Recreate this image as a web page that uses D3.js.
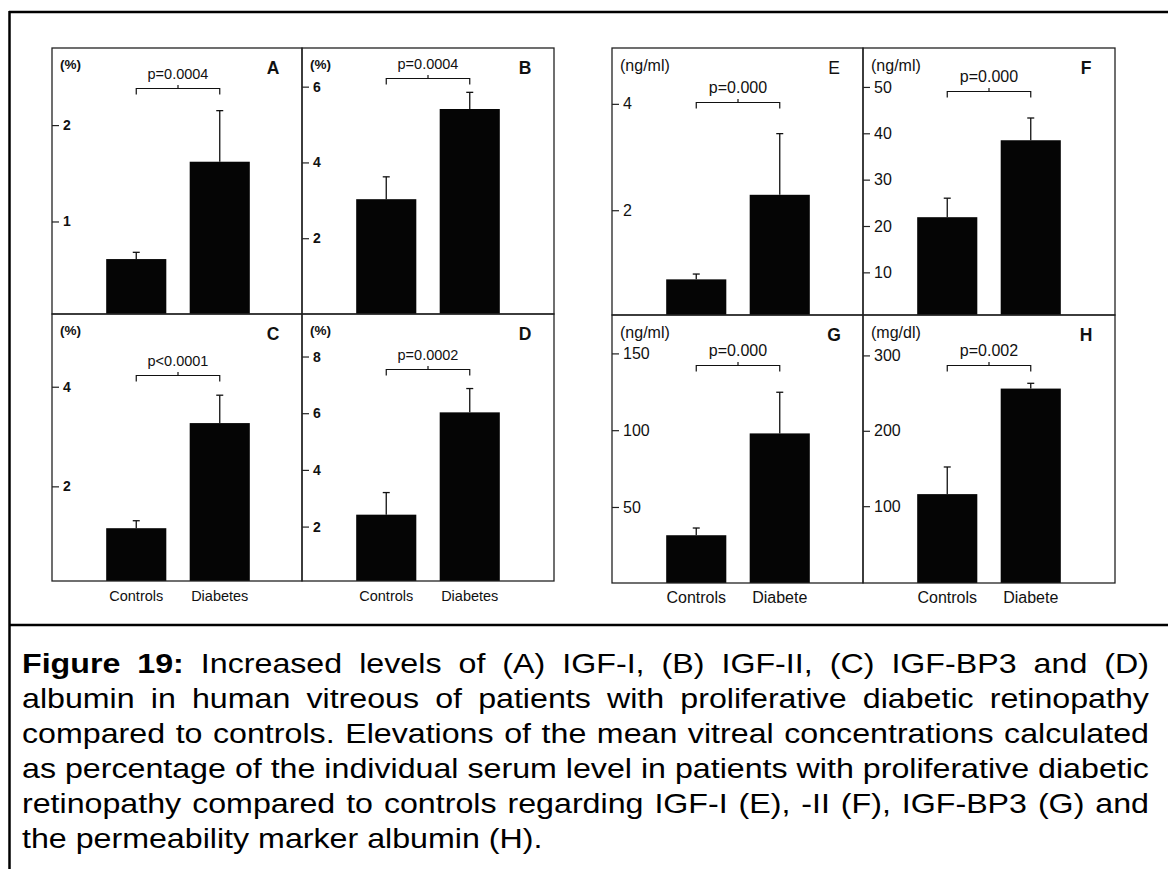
<!DOCTYPE html>
<html>
<head>
<meta charset="utf-8">
<script src="https://cdn.jsdelivr.net/npm/d3@7"></script>
<style>
body{margin:0;background:#fff;}
svg{display:block;font-family:"Liberation Sans",Arial,sans-serif;}
</style>
</head>
<body>
<script>
// ---- data ----
var categories=["Controls","Diabetes"];
var xLabelsLeft=["Controls","Diabetes"];
var xLabelsRight=["Controls","Diabete"];
var panelIds=["A","B","C","D","E","F","G","H"];
var units=["(%)","(%)","(%)","(%)","(ng/ml)","(ng/ml)","(ng/ml)","(mg/dl)"];
var pValues=["p=0.0004","p=0.0004","p<0.0001","p=0.0002","p=0.000","p=0.000","p=0.000","p=0.002"];
var meansControls=[0.61,3.03,1.16,2.42,0.70,21.9,31.6,116];
var meansDiabetes=[1.62,5.41,3.27,6.03,2.29,38.5,97.9,256];
var errControls=[0.07,0.59,0.15,0.78,0.10,4.1,4.7,36];
var errDiabetes=[0.53,0.44,0.56,0.84,1.15,4.8,26.8,7];
var yDomains=[[0.04,2.8],[0,7.02],[0.1,5.46],[0.08,9.5],[0.03,5.05],[0.8,58.4],[0.5,175],[-1.9,353.6]];
var yTicks=[[1,2],[2,4,6],[2,4],[2,4,6,8],[2,4],[10,20,30,40,50],[50,100,150],[100,200,300]];
var bracketLevels=[2.39,6.24,4.23,7.57,4.04,49.2,142.5,287.3];

var captionLines=[
    "Figure 19: Increased levels of (A) IGF-I, (B) IGF-II, (C) IGF-BP3 and (D)",
    "albumin in human vitreous of patients with proliferative diabetic retinopathy",
    "compared to controls. Elevations of the mean vitreal concentrations calculated",
    "as percentage of the individual serum level in patients with proliferative diabetic",
    "retinopathy compared to controls regarding IGF-I (E), -II (F), IGF-BP3 (G) and",
    "the permeability marker albumin (H)."
];

// ---- layout ----
var W=1168,H=869;
var blocks=[
    {cols:[52,302,554],rows:[48,314,581],tick:14,tickW:"bold",txt:14.5,xl:xLabelsLeft},
    {cols:[612,863,1115],rows:[48,315,583],tick:16,tickW:"normal",txt:16,xl:xLabelsRight}
];

var svg=d3.select("body").append("svg").attr("width",W).attr("height",H);

// outer frame
svg.append("line").attr("x1",9).attr("x2",W).attr("y1",12).attr("y2",12).attr("stroke","#000").attr("stroke-width",2.5);
svg.append("line").attr("x1",9).attr("x2",W).attr("y1",625).attr("y2",625).attr("stroke","#000").attr("stroke-width",2.5);
svg.append("line").attr("x1",9.5).attr("x2",9.5).attr("y1",11).attr("y2",H).attr("stroke","#000").attr("stroke-width",2.5);

function drawPanel(i) {
    var b=blocks[Math.floor(i/4)];
    var k=i%4, c=k%2, r=Math.floor(k/2);
    var x0=b.cols[c], x1=b.cols[c+1], y0=b.rows[r], y1=b.rows[r+1];

    var y=d3.scaleLinear().domain(yDomains[i]).range([y1,y0]);
    var x=d3.scaleBand().domain(categories).range([x0+42.5,x0+209.5]).paddingInner(0.28).paddingOuter(0.14);

    var g=svg.append("g").attr("class","panel panel-"+panelIds[i]);
    var rows=categories.map(function(cat,j){
        return {cat:cat,mean:j?meansDiabetes[i]:meansControls[i],err:j?errDiabetes[i]:errControls[i]};
    });

    // bars
    g.selectAll("rect.bar").data(rows).enter().append("rect")
        .attr("class","bar")
        .attr("x",function(d){return x(d.cat);})
        .attr("width",x.bandwidth())
        .attr("y",function(d){return y(d.mean);})
        .attr("height",function(d){return y1-y(d.mean);})
        .attr("fill","#050505");

    // error bars (upper only)
    var eb=g.selectAll("g.err").data(rows).enter().append("g").attr("class","err")
        .attr("stroke","#111").attr("stroke-width",1.3);
    eb.append("line")
        .attr("x1",function(d){return x(d.cat)+x.bandwidth()/2;})
        .attr("x2",function(d){return x(d.cat)+x.bandwidth()/2;})
        .attr("y1",function(d){return y(d.mean);})
        .attr("y2",function(d){return y(d.mean+d.err);});
    eb.append("line")
        .attr("x1",function(d){return x(d.cat)+x.bandwidth()/2-3.5;})
        .attr("x2",function(d){return x(d.cat)+x.bandwidth()/2+3.5;})
        .attr("y1",function(d){return y(d.mean+d.err);})
        .attr("y2",function(d){return y(d.mean+d.err);});

    // panel frame
    g.append("rect").attr("x",x0).attr("y",y0).attr("width",x1-x0).attr("height",y1-y0)
        .attr("fill","none").attr("stroke","#222").attr("stroke-width",1.3);

    // y axis inside the frame
    var ax=g.append("g").attr("transform","translate("+x0+",0)")
        .call(d3.axisRight(y).tickValues(yTicks[i]).tickSize(7).tickPadding(4).tickFormat(d3.format("d")));
    ax.attr("font-family",null).attr("font-size",null);
    ax.select(".domain").remove();
    ax.selectAll(".tick line").attr("stroke","#222").attr("stroke-width",1.2);
    ax.selectAll(".tick text").attr("fill","#111").attr("font-weight",b.tickW).style("font-size",b.tick+"px");

    // significance bracket
    var cx0=x(categories[0])+x.bandwidth()/2, cx1=x(categories[1])+x.bandwidth()/2;
    var by=Math.round(y(bracketLevels[i]))+0.5;
    g.append("path")
        .attr("d","M"+cx0+","+(by+6)+"V"+by+"H"+cx1+"V"+(by+6)+"M"+((cx0+cx1)/2)+","+by+"V"+(by-3.5))
        .attr("fill","none").attr("stroke","#111").attr("stroke-width",1.2);
    g.append("text").attr("x",(cx0+cx1)/2).attr("y",by-10).attr("text-anchor","middle")
        .style("font-size",b.txt+"px").attr("fill","#111").text(pValues[i]);

    // unit and panel letter
    g.append("text").attr("x",x0+8).attr("y",y0+21+(i>3?2:0))
        .attr("font-weight",i<4?"bold":"normal")
        .style("font-size",(i<4?13.5:b.txt)+"px").attr("fill","#111").text(units[i]);
    g.append("text").attr("x",x1-29).attr("y",y0+26).attr("text-anchor","middle")
        .style("font-size","17.5px").attr("font-weight",panelIds[i]==="E"?"normal":"bold")
        .attr("fill","#111").text(panelIds[i]);

    // category labels under the lower row
    if (r===1) {
        g.selectAll("text.xl").data(categories).enter().append("text")
            .attr("class","xl")
            .attr("x",function(d){return x(d)+x.bandwidth()/2;})
            .attr("y",y1+20)
            .attr("text-anchor","middle")
            .style("font-size",b.txt+"px").attr("fill","#111")
            .text(function(d,j){return b.xl[j];});
    }
}
for (var i=0;i<panelIds.length;i++) drawPanel(i);

// ---- caption, justified ----
var capX0=22, capX1=1149, capY0=673, capDy=35, capFs=27.5;
var cap=svg.append("g").attr("class","caption").style("font-size",capFs+"px").attr("fill","#000");
function textWidth(s,bold) {
    var t=cap.append("text").attr("font-weight",bold?"bold":"normal").text(s);
    var w=t.node().getComputedTextLength();
    t.remove();
    return w;
}
var spaceW=textWidth("x x")-textWidth("xx");
function lineWords(li) {
    return captionLines[li].split(" ").map(function(w,j){
        var bold=(li===0&&j<2);
        return {w:w,bold:bold,len:textWidth(w,bold)};
    });
}
var ref=lineWords(3);
var natural=d3.sum(ref,function(d){return d.len;})+spaceW*(ref.length-1);
var sx=(capX1-capX0)/natural;
captionLines.forEach(function(line,li){
    var words=lineWords(li);
    var sum=d3.sum(words,function(d){return d.len;});
    var last=(li===captionLines.length-1);
    var gap=last?spaceW:((capX1-capX0)/sx-sum)/(words.length-1);
    var lg=cap.append("g").attr("transform","translate("+capX0+","+(capY0+li*capDy)+") scale("+sx+",1)");
    var cx=0;
    words.forEach(function(d){
        lg.append("text").attr("x",cx).attr("y",0).attr("font-weight",d.bold?"bold":"normal").text(d.w);
        cx+=d.len+gap;
    });
});
</script>
</body>
</html>
